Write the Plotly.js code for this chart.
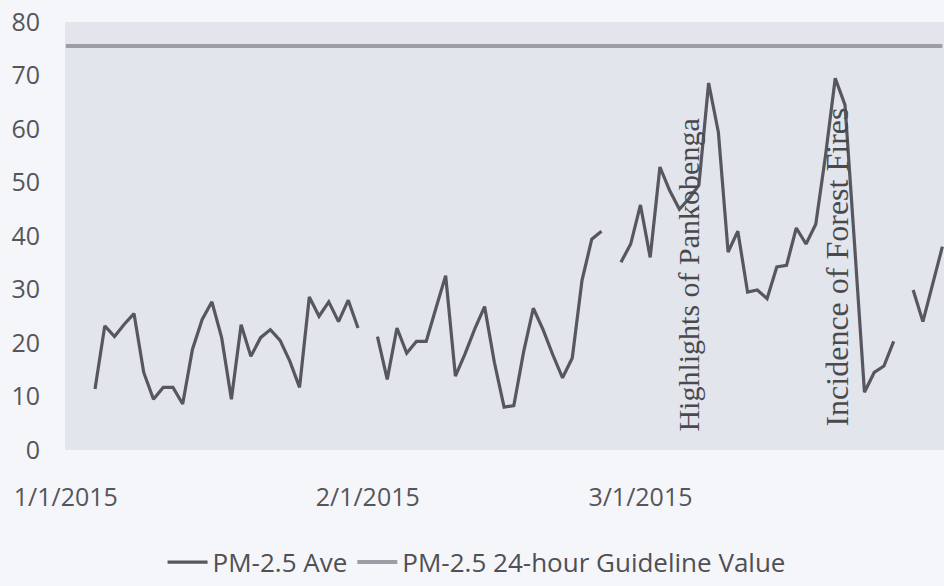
<!DOCTYPE html>
<html>
<head>
<meta charset="utf-8">
<script src="https://cdn.plot.ly/plotly-3.0.1.min.js"></script>
<style>
  html, body { margin: 0; padding: 0; background: #f5f6f9; }
  #chart { width: 944px; height: 586px; }
</style>
</head>
<body>
<div id="chart"></div>
<script>
// ---- data ----
const janStart = '2015-01-04';
// Jan 4 .. Jan 31
const janValues = [11.4, 23.2, 21.2, 23.5, 25.5, 14.5, 9.5, 11.7, 11.7, 8.6, 18.8, 24.4, 27.7, 21, 9.5, 23.4, 17.5, 21, 22.5, 20.5, 16.6, 11.7, 28.6, 25, 27.7, 24, 28, 22.8];
// Feb 1 .. Feb 28 (null = missing day)
const febValues = [null, 21.2, 13.2, 22.8, 18.1, 20.3, 20.3, 26.5, 32.6, 13.8, 18, 22.7, 26.8, 16.4, 8, 8.3, 18.3, 26.5, 22.5, 17.8, 13.5, 17.2, 31.7, 39.4, 40.9, null, 35.1, 38.5];
// Mar 1 .. Mar 31
const marValues = [45.8, 36, 52.9, 48.5, 45, 47, 49.5, 68.6, 59.4, 37, 40.9, 29.5, 29.9, 28.3, 34.2, 34.5, 41.5, 38.5, 42.2, 55, 69.5, 64.5, 38, 10.8, 14.5, 15.7, 20.3, null, 29.9, 24, 31];
// Apr 1
const aprValues = [38];

const guideDates = ['2015-01-01', '2015-04-01'];
const guideValues = [75.5, 75.5];

const xTickVals = ['2015-01-01', '2015-02-01', '2015-03-01'];
const xTickText = ['1/1/2015', '2/1/2015', '3/1/2015'];
const yTickVals = [0, 10, 20, 30, 40, 50, 60, 70, 80];

const seriesNames = ['PM-2.5 Ave', 'PM-2.5 24-hour Guideline Value'];
const annotationTexts = ['Highlights of Pankobenga', 'Incidence of Forest Fires'];

// ---- build daily x/y ----
const pmValues = janValues.concat(febValues, marValues, aprValues);
const pmDates = [];
{
  const d0 = new Date(janStart + 'T00:00:00Z');
  for (let i = 0; i < pmValues.length; i++) {
    const d = new Date(d0.getTime() + i * 86400000);
    pmDates.push(d.toISOString().slice(0, 10));
  }
}

const tickFont = { family: 'Open Sans, sans-serif', size: 25, color: '#55555b' };

const traces = [
  {
    x: pmDates, y: pmValues, name: seriesNames[0], type: 'scatter', mode: 'lines',
    connectgaps: false,
    line: { color: '#56575f', width: 3.2 },
    hoverinfo: 'skip'
  },
  {
    x: guideDates, y: guideValues, name: seriesNames[1], type: 'scatter', mode: 'lines',
    line: { color: '#9d9ea5', width: 4 },
    hoverinfo: 'skip'
  }
];

const layout = {
  width: 944, height: 586,
  margin: { l: 65, r: 0, t: 22, b: 131 },
  paper_bgcolor: '#f5f6f9',
  plot_bgcolor: '#e2e5eb',
  showlegend: true,
  legend: {
    orientation: 'h', x: 0.111, xanchor: 'left', y: -0.262, yanchor: 'middle',
    font: { family: 'Open Sans, sans-serif', size: 26, color: '#4f4f55' },
    itemwidth: 40, bgcolor: 'rgba(0,0,0,0)'
  },
  xaxis: {
    type: 'date',
    range: ['2014-12-31 22:00', '2015-04-01 04:00'],
    tickvals: xTickVals, ticktext: xTickText,
    showgrid: false, zeroline: false, showline: false, ticks: '',
    ticklabelstandoff: 30,
    tickfont: tickFont
  },
  yaxis: {
    range: [0, 80],
    tickvals: yTickVals,
    showgrid: false, zeroline: false, showline: false, ticks: '',
    ticklabelstandoff: 24,
    tickfont: tickFont
  },
  annotations: [
    {
      xref: 'paper', yref: 'paper', x: 0.709, y: 0.408, xanchor: 'center', yanchor: 'middle',
      text: annotationTexts[0], textangle: -90, showarrow: false,
      font: { family: 'Liberation Serif, serif', size: 30, color: '#4a4a4e' }
    },
    {
      xref: 'paper', yref: 'paper', x: 0.878, y: 0.428, xanchor: 'center', yanchor: 'middle',
      text: annotationTexts[1], textangle: -90, showarrow: false,
      font: { family: 'Liberation Serif, serif', size: 32, color: '#4a4a4e' }
    }
  ]
};

Plotly.newPlot('chart', traces, layout, { displayModeBar: false, staticPlot: true });
</script>
</body>
</html>
